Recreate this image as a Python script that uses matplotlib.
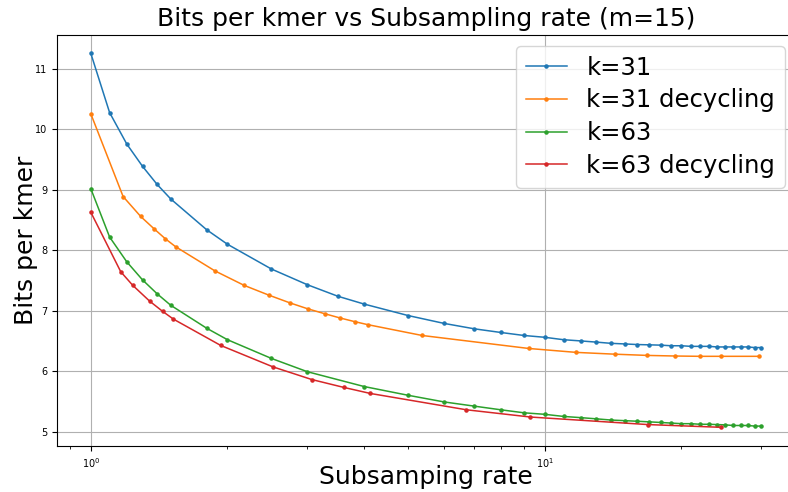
import matplotlib
matplotlib.use('Agg')
import matplotlib.pyplot as plt

# subsampling rate per point
x_k31 = [1, 1.1, 1.2, 1.3, 1.4, 1.5, 1.8, 2, 2.5, 3, 3.5, 4, 5, 6, 7, 8, 9, 10,
         11, 12, 13, 14, 15, 16, 17, 18, 19, 20, 21, 22, 23, 24, 25, 26, 27, 28, 29, 30]
y_k31 = [11.26, 10.28, 9.76, 9.39, 9.09, 8.85, 8.34, 8.10, 7.69, 7.43, 7.24, 7.11, 6.92, 6.79,
         6.70, 6.64, 6.59, 6.56, 6.52, 6.50, 6.48, 6.46, 6.45, 6.44, 6.435, 6.43, 6.42, 6.42,
         6.41, 6.41, 6.41, 6.40, 6.40, 6.40, 6.40, 6.40, 6.39, 6.39]

x_k31_dec = [1, 1.178, 1.288, 1.381, 1.46, 1.537, 1.876, 2.176, 2.463, 2.745, 3.01, 3.277,
             3.54, 3.81, 4.07, 5.37, 9.22, 11.74, 14.31, 16.83, 19.4, 21.98, 24.45, 29.6]
y_k31_dec = [10.26, 8.89, 8.56, 8.35, 8.19, 8.06, 7.66, 7.42, 7.26, 7.13, 7.03, 6.95,
             6.88, 6.82, 6.77, 6.59, 6.375, 6.31, 6.28, 6.26, 6.25, 6.245, 6.245, 6.245]

x_k63 = [1, 1.1, 1.2, 1.3, 1.4, 1.5, 1.8, 2, 2.5, 3, 4, 5, 6, 7, 8, 9, 10,
         11, 12, 13, 14, 15, 16, 17, 18, 19, 20, 21, 22, 23, 24, 25, 26, 27, 28, 29, 30]
y_k63 = [9.02, 8.22, 7.81, 7.51, 7.28, 7.09, 6.71, 6.52, 6.21, 5.99, 5.745, 5.60, 5.49, 5.42,
         5.36, 5.31, 5.285, 5.25, 5.23, 5.21, 5.19, 5.18, 5.17, 5.16, 5.15, 5.14, 5.13, 5.13,
         5.12, 5.12, 5.115, 5.11, 5.10, 5.10, 5.10, 5.09, 5.09]

x_k63_dec = [1, 1.164, 1.237, 1.347, 1.439, 1.521, 1.933, 2.52, 3.07, 3.61, 4.13, 6.72,
             9.30, 16.89, 24.45]
y_k63_dec = [8.63, 7.645, 7.42, 7.16, 6.99, 6.86, 6.425, 6.07, 5.86, 5.73, 5.63, 5.36,
             5.24, 5.115, 5.07]

fig = plt.figure(figsize=(7.88, 4.92), dpi=100)
# right spine sits just past the image edge in the reference
ax = fig.add_axes([0.0727, 0.0935, 0.936, 0.836])

ax.plot(x_k31, y_k31, marker='.', markersize=4.5, linewidth=1.1, label='k=31')
ax.plot(x_k31_dec, y_k31_dec, marker='.', markersize=4.5, linewidth=1.1, label='k=31 decycling')
ax.plot(x_k63, y_k63, marker='.', markersize=4.5, linewidth=1.1, label='k=63')
ax.plot(x_k63_dec, y_k63_dec, marker='.', markersize=4.5, linewidth=1.1, label='k=63 decycling')

ax.set_xscale('log')
ax.grid(True)
ax.tick_params(labelsize=7)
ax.set_title('Bits per kmer vs Subsampling rate (m=15)', fontsize=18)
ax.set_xlabel('Subsamping rate', fontsize=18, labelpad=-3)
ax.set_ylabel('Bits per kmer', fontsize=18, labelpad=-2)
ax.legend(fontsize=17.5, loc='upper right', bbox_to_anchor=(785 / 788, 1 - 46 / 492),
          bbox_transform=fig.transFigure, borderaxespad=0,
          labelspacing=0.36, handlelength=1.7)

fig.savefig('out.png', dpi=100)
